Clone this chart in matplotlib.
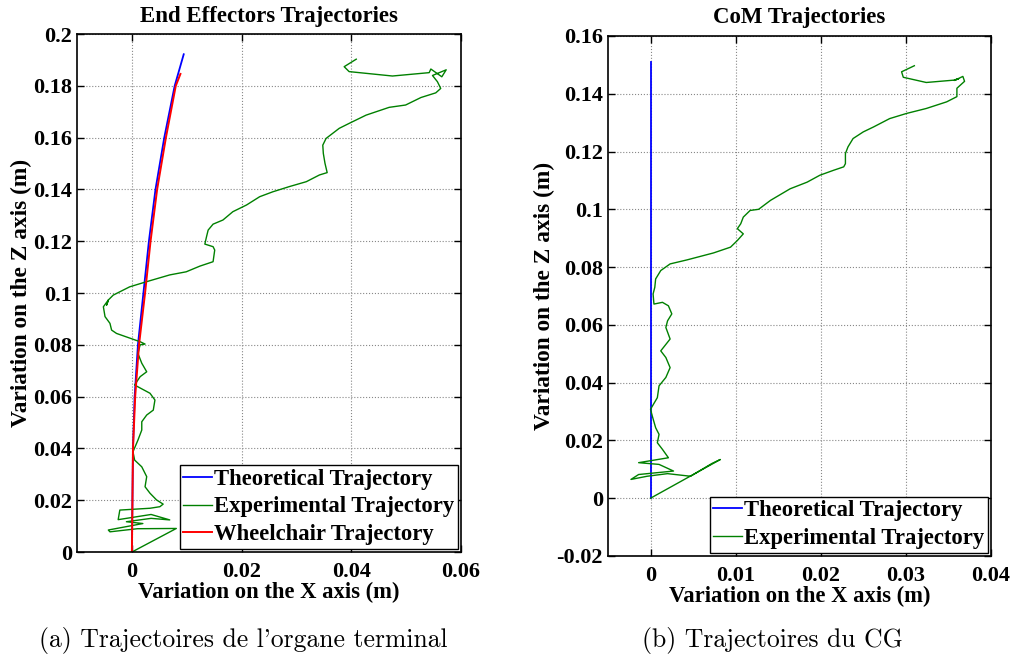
import numpy as np
import matplotlib
matplotlib.use('Agg')
import matplotlib.pyplot as plt

plt.rcParams['font.family'] = ['Liberation Serif', 'DejaVu Serif']
plt.rcParams['font.weight'] = 'bold'

# End effector trajectories (x, z) in metres
ee_theo_x = [0, 0.0001, 0.0002, 0.0005, 0.0011, 0.0021, 0.0031, 0.0043, 0.0059, 0.0078, 0.00945]
ee_theo_z = [0, 0.02, 0.04, 0.06, 0.08, 0.10, 0.12, 0.14, 0.16, 0.18, 0.1922]
ee_chair_x = [0, 0.0001, 0.0002, 0.0006, 0.0013, 0.0024, 0.0034, 0.0046, 0.0062, 0.0080, 0.00885]
ee_chair_z = [0, 0.02, 0.04, 0.06, 0.08, 0.10, 0.12, 0.14, 0.16, 0.18, 0.1846]
ee_exp_x = [0, 0.0081, 0.001, -0.004, -0.0043, 0.002, -0.001, 0.0035, 0.0069, 0.0035,
            -0.0025, -0.0022, 0.0033, 0.0051, 0.0057, 0.0045, 0.0033, 0.0024, 0.0027, 0.0018,
            0.0005, 0.0002, 0.0011, 0.0018, 0.0018, 0.0027, 0.0039, 0.0042, 0.0033, 0.0011,
            0.0005, 0.0015, 0.0027, 0.0018, 0.0011, 0.0015, 0.0024, 0.0015, -0.0028, -0.0037,
            -0.004, -0.0049, -0.0052, -0.0043, -0.0046, -0.0043, -0.0034, -0.0004, 0.0027, 0.0069,
            0.0099, 0.0124, 0.0148, 0.0151, 0.0148, 0.0133, 0.0136, 0.0139, 0.0148, 0.0166,
            0.0184, 0.0209, 0.0233, 0.0257, 0.0287, 0.0318, 0.0342, 0.0356, 0.0352, 0.0349,
            0.0348, 0.0354, 0.0378, 0.0396, 0.0427, 0.0469, 0.0499, 0.0527, 0.0554, 0.0563,
            0.0557, 0.0548, 0.0573, 0.0565, 0.0545, 0.0542, 0.0475, 0.0396, 0.0387, 0.0409]
ee_exp_z = [0, 0.0091, 0.0090, 0.0078, 0.0085, 0.0110, 0.0117, 0.0130, 0.0124, 0.0145,
            0.0125, 0.0162, 0.0169, 0.0175, 0.0185, 0.0201, 0.0227, 0.0252, 0.0291, 0.0329,
            0.0355, 0.0387, 0.0432, 0.0471, 0.0503, 0.0529, 0.0548, 0.0587, 0.0613, 0.0638,
            0.0645, 0.0677, 0.0696, 0.0729, 0.0767, 0.0800, 0.0803, 0.0812, 0.0844, 0.0857,
            0.0883, 0.0909, 0.0947, 0.0973, 0.0954, 0.0973, 0.0992, 0.1024, 0.1044, 0.1070,
            0.1082, 0.1104, 0.1121, 0.1166, 0.1179, 0.1189, 0.1217, 0.1243, 0.1266, 0.1282,
            0.1314, 0.1340, 0.1372, 0.1391, 0.1411, 0.1430, 0.1456, 0.1465, 0.1501, 0.1539,
            0.1571, 0.1597, 0.1636, 0.1655, 0.1687, 0.1717, 0.1726, 0.1755, 0.1773, 0.1790,
            0.1816, 0.1840, 0.1862, 0.1835, 0.1865, 0.1851, 0.1838, 0.1855, 0.1874, 0.1903]

# CoM trajectories
com_theo_x = [0, 0]
com_theo_z = [0, 0.1511]
com_exp_x = [0, 0.0082, 0.0072, 0.0047, 0.0020, -0.0004, -0.0023, -0.0014, 0.0027, 0.0010,
             -0.0014, 0.0021, 0.0014, 0.0008, 0.0010, 0.0006, 0.0002, 0.0, 0.0008, 0.0010,
             0.0018, 0.0023, 0.0018, 0.0012, 0.0023, 0.0018, 0.0020, 0.0025, 0.0021, 0.0014,
             0.0004, 0.0003, 0.0005, 0.0006, 0.0012, 0.0023, 0.0043, 0.0074, 0.0094, 0.0102,
             0.0109, 0.0102, 0.0106, 0.0109, 0.0117, 0.0127, 0.0141, 0.0164, 0.0184, 0.0199,
             0.0215, 0.0227, 0.0229, 0.0229, 0.0232, 0.0238, 0.0250, 0.0262, 0.0281, 0.0301,
             0.0324, 0.0348, 0.0360, 0.0360, 0.0369, 0.0367, 0.0357, 0.0362, 0.0356, 0.0324,
             0.0297, 0.0295, 0.0310]
com_exp_z = [0, 0.0134, 0.0120, 0.0076, 0.0085, 0.0076, 0.0065, 0.0082, 0.0094, 0.0117,
             0.0123, 0.0140, 0.0169, 0.0192, 0.0221, 0.0244, 0.0285, 0.0308, 0.0348, 0.0389,
             0.0418, 0.0452, 0.0487, 0.0510, 0.0551, 0.0591, 0.0614, 0.0638, 0.0666, 0.0678,
             0.0672, 0.0707, 0.0730, 0.0759, 0.0788, 0.0811, 0.0825, 0.0849, 0.0869, 0.0892,
             0.0915, 0.0933, 0.0950, 0.0973, 0.0996, 0.1000, 0.1031, 0.1071, 0.1094, 0.1118,
             0.1135, 0.1147, 0.1158, 0.1193, 0.1216, 0.1245, 0.1268, 0.1285, 0.1314, 0.1332,
             0.1349, 0.1372, 0.1390, 0.1419, 0.1443, 0.1460, 0.1446, 0.1452, 0.1447, 0.1439,
             0.1457, 0.1476, 0.1497]

blue = '#0000ff'
green = '#008000'
red = '#ff0000'

fig = plt.figure(figsize=(10.15, 6.6), dpi=100)
ax1 = fig.add_axes([0.0759, 0.1636, 0.3783, 0.7848])
ax2 = fig.add_axes([0.599, 0.1576, 0.3773, 0.7879])

def style(ax):
	ax.grid(True, linestyle=':', color='#888888', linewidth=0.8)
	ax.tick_params(direction='in', top=True, right=True, labelsize=16, length=5, width=1)
	ax.tick_params(axis='x', pad=7)
	for s in ax.spines.values():
		s.set_linewidth(1.2)
	for lab in ax.get_xticklabels() + ax.get_yticklabels():
		lab.set_fontweight('bold')

def add_legend(ax):
	leg = ax.legend(loc='lower right', fancybox=False, edgecolor='black',
		framealpha=1, borderpad=0.15, labelspacing=0.3, handlelength=1.25, handletextpad=0.1,
		borderaxespad=0.15, prop={'weight': 'bold', 'size': 16.3})
	leg.get_frame().set_linewidth(1.0)

# left: end effectors
ax1.plot(ee_theo_x, ee_theo_z, color=blue, lw=1.3, label='Theoretical Trajectory')
ax1.plot(ee_exp_x, ee_exp_z, color=green, lw=1.0, label='Experimental Trajectory')
ax1.plot(ee_chair_x, ee_chair_z, color=red, lw=1.4, label='Wheelchair Trajectory')
ax1.set_xlim(-0.01, 0.06)
ax1.set_ylim(0, 0.2)
ax1.set_xticks([0, 0.02, 0.04, 0.06])
ax1.set_xticklabels(['0', '0.02', '0.04', '0.06'])
ax1.set_yticks(np.arange(0, 0.21, 0.02))
ax1.set_yticklabels(['0', '0.02', '0.04', '0.06', '0.08', '0.1', '0.12', '0.14', '0.16', '0.18', '0.2'])
ax1.set_title('End Effectors Trajectories', fontsize=16.5, fontweight='bold', pad=9)
ax1.set_xlabel('Variation on the X axis (m)', fontsize=16.3, fontweight='bold', labelpad=0)
ax1.set_ylabel('Variation on the Z axis (m)', fontsize=16.8, fontweight='bold', labelpad=1)
style(ax1)
add_legend(ax1)

# right: CoM
ax2.plot(com_theo_x, com_theo_z, color=blue, lw=1.3, label='Theoretical Trajectory')
ax2.plot(com_exp_x, com_exp_z, color=green, lw=1.0, label='Experimental Trajectory')
ax2.set_xlim(-0.005, 0.04)
ax2.set_ylim(-0.02, 0.16)
ax2.set_xticks([0, 0.01, 0.02, 0.03, 0.04])
ax2.set_xticklabels(['0', '0.01', '0.02', '0.03', '0.04'])
ax2.set_yticks(np.arange(-0.02, 0.161, 0.02))
ax2.set_yticklabels(['-0.02', '0', '0.02', '0.04', '0.06', '0.08', '0.1', '0.12', '0.14', '0.16'])
ax2.set_title('CoM Trajectories', fontsize=16.5, fontweight='bold', pad=9)
ax2.set_xlabel('Variation on the X axis (m)', fontsize=16.3, fontweight='bold', labelpad=0)
ax2.set_ylabel('Variation on the Z axis (m)', fontsize=16.8, fontweight='bold', labelpad=1)
style(ax2)
add_legend(ax2)

# captions
fig.text(0.2394, 0.0197, "(a) Trajectoires de l'organe terminal", ha='center', va='baseline',
	fontsize=18.5, family=['cmr10', 'DejaVu Serif'], fontweight='normal')
fig.text(0.7606, 0.0197, '(b) Trajectoires du CG', ha='center', va='baseline',
	fontsize=18.5, family=['cmr10', 'DejaVu Serif'], fontweight='normal')

plt.savefig('out.png', dpi=100)
